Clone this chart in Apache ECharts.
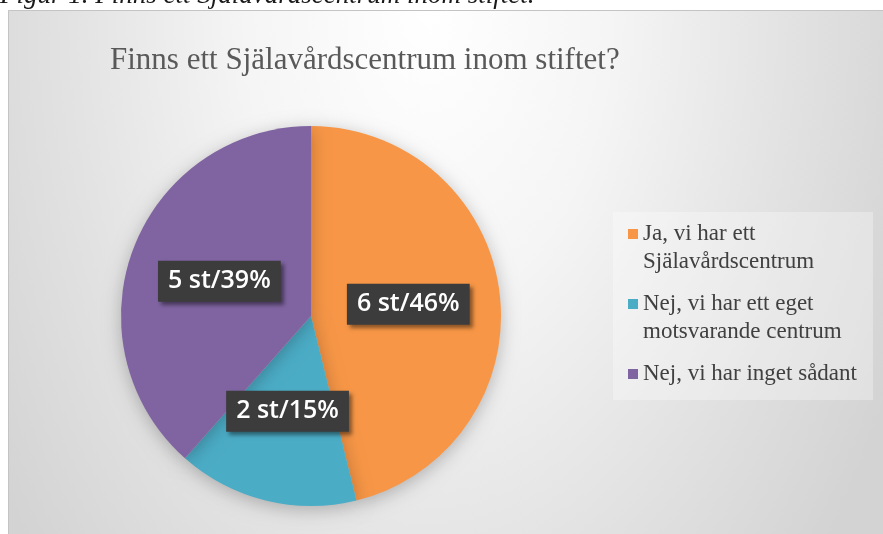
<!DOCTYPE html>
<html>
<head>
<meta charset="utf-8">
<script src="https://cdn.jsdelivr.net/npm/echarts@6/dist/echarts.min.js"></script>
<style>
  html, body { margin: 0; padding: 0; background: #fff; }
  #chart { width: 883px; height: 534px; }
</style>
</head>
<body>
<div id="chart"></div>
<script>
const categories = [
  'Ja, vi har ett Själavårdscentrum',
  'Nej, vi har ett eget motsvarande centrum',
  'Nej, vi har inget sådant'
];
const counts = [6, 2, 5];
// legend wraps like the original text box (every item two lines so the marker sits on line 1)
const legendLabels = [
  'Ja, vi har ett\nSjälavårdscentrum',
  'Nej, vi har ett eget\nmotsvarande centrum',
  'Nej, vi har inget sådant\n'
];

const chart = echarts.init(document.getElementById('chart'));
const serif = '"Liberation Serif", "DejaVu Serif", serif';

chart.setOption({
  animation: false,
  color: ['#F79646', '#4BACC6', '#8064A2'],
  graphic: [
    {
      type: 'rect',
      z: -10,
      x: 8,
      y: 10,
      scaleY: 1.6,
      shape: { x: 0, y: 0, width: 900, height: 340 },
      style: {
        fill: new echarts.graphic.RadialGradient(420, 0, 520, [
          { offset: 0, color: '#ffffff' },
          { offset: 0.35, color: '#f5f5f5' },
          { offset: 0.7, color: '#e2e2e2' },
          { offset: 1, color: '#d3d3d3' }
        ], true)
      },
      silent: true
    },
    {
      type: 'rect',
      z: -9,
      shape: { x: 8.5, y: 10.5, width: 900, height: 540 },
      style: { fill: 'none', stroke: '#c4c4c4', lineWidth: 1 },
      silent: true
    },
    {
      type: 'rect',
      z: -8,
      shape: { x: 613, y: 212, width: 260, height: 188 },
      style: { fill: 'rgba(255,255,255,0.3)' },
      silent: true
    },
    {
      type: 'text',
      x: 0,
      y: -18,
      style: {
        text: 'Figur 1. Finns ett Själavårdscentrum inom stiftet.',
        font: 'italic 27px ' + serif,
        fill: '#1a1a1a',
        verticalAlign: 'top'
      },
      silent: true
    }
  ],
  title: {
    text: 'Finns ett Själavårdscentrum inom stiftet?',
    left: 110,
    top: 45,
    padding: 0,
    textStyle: {
      fontFamily: serif,
      fontSize: 31,
      fontWeight: 'normal',
      color: '#595959'
    }
  },
  legend: {
    orient: 'vertical',
    left: 628,
    top: 220,
    padding: 0,
    itemWidth: 10,
    itemHeight: 38,
    itemGap: 14,
    // square at the top of a taller box so it lines up with the first text line
    icon: 'path://M0,0h10v10h-10zM0,38',
    symbolKeepAspect: false,
    formatter: (name) => legendLabels[categories.indexOf(name)],
    textStyle: {
      fontFamily: serif,
      fontSize: 23,
      lineHeight: 28,
      color: '#404040'
    }
  },
  series: [{
    type: 'pie',
    center: [311, 316],
    radius: 190,
    startAngle: 90,
    percentPrecision: 0,
    data: categories.map((name, i) => ({ name: name, value: counts[i] })),
    itemStyle: {
      shadowBlur: 18,
      shadowColor: 'rgba(0,0,0,0.25)',
      shadowOffsetY: 4
    },
    label: {
      show: true,
      position: 'inside',
      formatter: '{c} st/{d}%',
      fontFamily: '"Open Sans", "Noto Sans", sans-serif',
      fontWeight: 600,
      fontSize: 25,
      lineHeight: 29,
      color: '#fff',
      backgroundColor: '#3c3c3c',
      padding: [6, 10, 6, 10],
      shadowBlur: 4,
      shadowOffsetX: 3,
      shadowOffsetY: 3,
      shadowColor: 'rgba(0,0,0,0.45)'
    },
    labelLine: { show: false },
    emphasis: { disabled: true }
  }]
});
</script>
</body>
</html>
